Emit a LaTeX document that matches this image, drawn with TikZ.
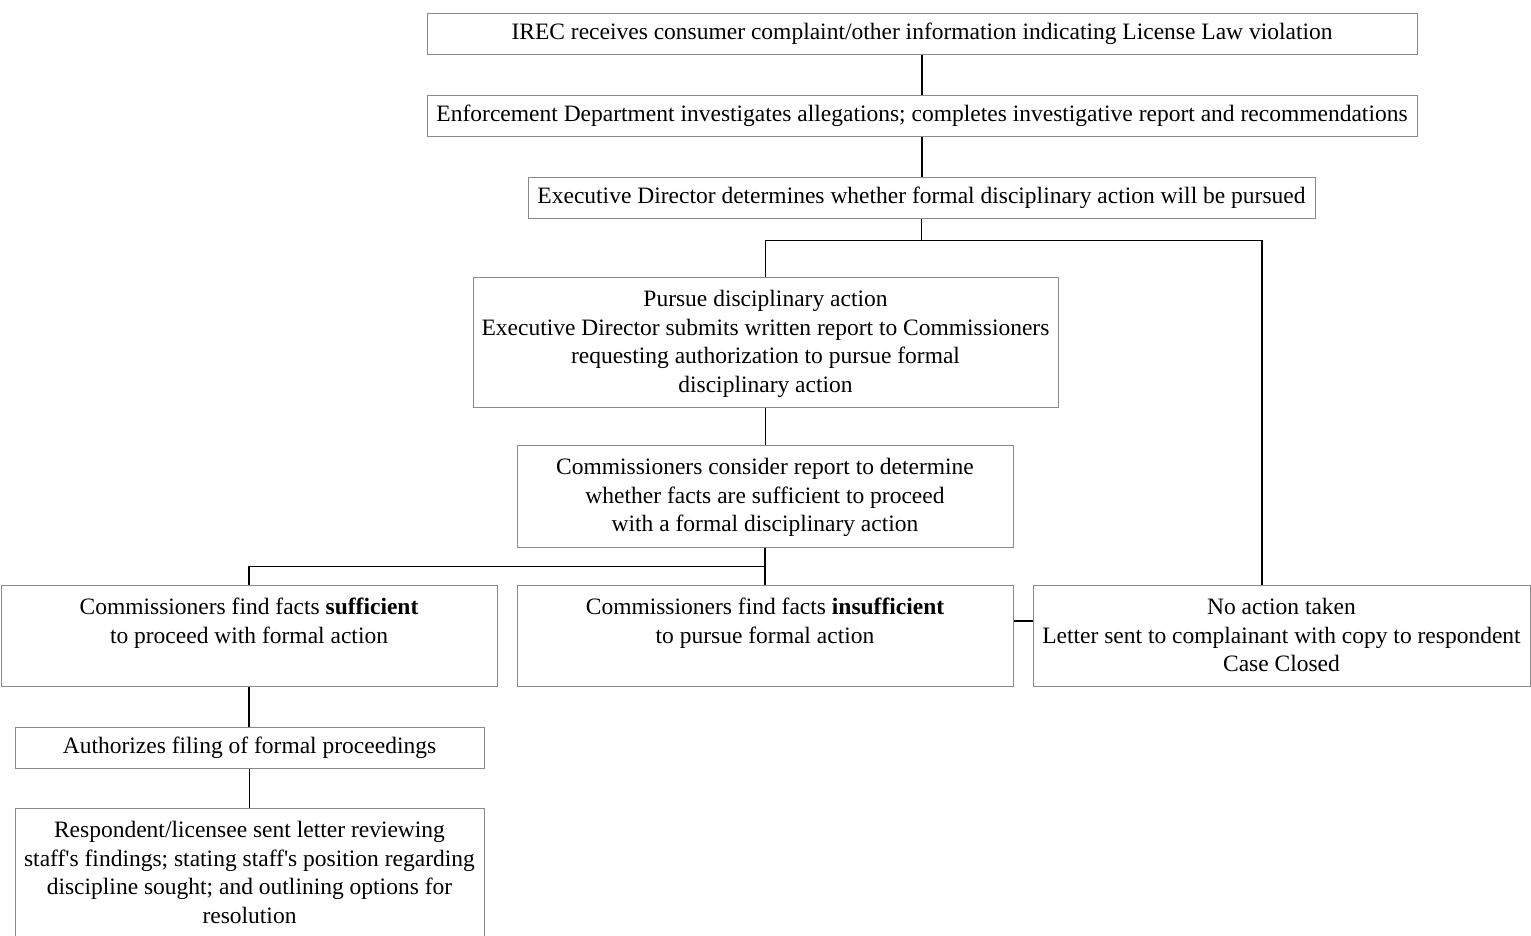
\documentclass[tikz,border=0pt]{standalone}
\usepackage{fontspec}
\setmainfont{Liberation Serif}
\definecolor{boxgray}{HTML}{8A8A8A}
\newcommand\apos{\textquotesingle}
\begin{document}
\begin{tikzpicture}[x=1pt,y=-1pt,
  box/.style={draw=boxgray, line width=1pt, inner sep=0pt, rectangle, align=center,
    font=\fontsize{23.5}{28.7}\selectfont},
  txt/.style={anchor=north, inner sep=0pt, align=center, font=\fontsize{23.5}{28.7}\selectfont},
  conn/.style={draw=black, line width=1.4pt}]
\clip (0,0) rectangle (1531,935);
% boxes
\node[box, minimum width=990pt, minimum height=41pt] (b1) at (922,33.5)
  {IREC receives consumer complaint/other information indicating License Law violation};
\node[box, minimum width=990pt, minimum height=41pt] (b2) at (922,115.5)
  {Enforcement Department investigates allegations; completes investigative report and recommendations};
\node[box, minimum width=787pt, minimum height=41pt] (b3) at (921.5,197.5)
  {Executive Director determines whether formal disciplinary action will be pursued};
\node[box, minimum width=585pt, minimum height=130pt] (b4) at (765.5,342) {};
\node[txt] (t4) at (765.5,290)
  {Pursue disciplinary action\\Executive Director submits written report to Commissioners\\requesting authorization to pursue formal\\disciplinary action};
\node[box, minimum width=496pt, minimum height=102pt] (b5) at (765,496) {};
\node[txt] (t5) at (765,458)
  {Commissioners consider report to determine\\whether facts are sufficient to proceed\\with a formal disciplinary action};
\node[box, minimum width=496pt, minimum height=101pt] (b6) at (249,635.5) {};
\node[txt] (t6) at (249,598)
  {Commissioners find facts \textbf{sufficient}\\to proceed with formal action};
\node[box, minimum width=496pt, minimum height=101pt] (b7) at (765,635.5) {};
\node[txt] (t7) at (765,598)
  {Commissioners find facts \textbf{insufficient}\\to pursue formal action};
\node[box, minimum width=497pt, minimum height=101pt] (b8) at (1281.5,635.5) {};
\node[txt] (t8) at (1281.5,598)
  {No action taken\\Letter sent to complainant with copy to respondent\\Case Closed};
\node[box, minimum width=469pt, minimum height=41pt] (b9) at (249.5,747.5)
  {Authorizes filing of formal proceedings};
\node[box, minimum width=469pt, minimum height=152pt] (b10) at (249.5,884) {};
\node[txt] (t10) at (249.5,821)
  {Respondent/licensee sent letter reviewing\\staff\apos s findings; stating staff\apos s position regarding\\discipline sought; and outlining options for\\resolution};
% junctions
\coordinate (j1) at ([yshift=-22pt]b3.south);
\path (j1) ++(340.5,0) coordinate (j2);
\coordinate (j3) at ([yshift=-19pt]b5.south);
% connectors
\draw[conn] (b1.south) -- (b2.north);
\draw[conn] (b2.south) -- (b2.south |- b3.north);
\draw[conn] (b3.south) -- (j1);
\draw[conn] (j1) -| (b4.north);
\draw[conn] (j1) -- (j2) -- (j2 |- b8.north);
\draw[conn] (b4.south) -- (b4.south |- b5.north);
\draw[conn] (b5.south) -- (b7.north);
\draw[conn] (j3) -| (b6.north);
\draw[conn] ([yshift=14.5pt]b7.east) -- ([yshift=14.5pt]b8.west);
\draw[conn] (b6.south) -- (b6.south |- b9.north);
\draw[conn] (b9.south) -- (b10.north);
\end{tikzpicture}
\end{document}
